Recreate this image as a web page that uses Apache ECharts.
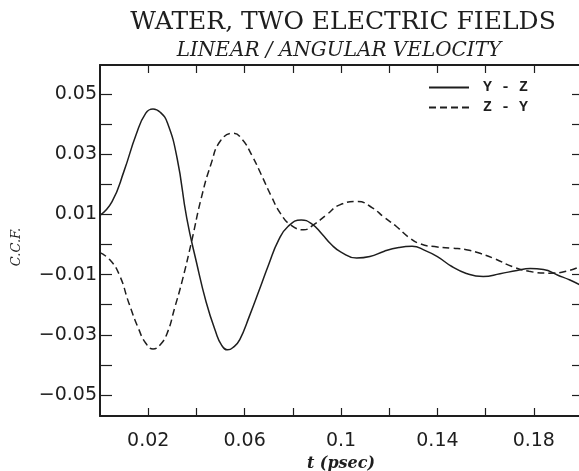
<!DOCTYPE html>
<html>
<head>
<meta charset="utf-8">
<script src="https://cdn.jsdelivr.net/npm/echarts@6/dist/echarts.min.js"></script>
<style>html,body{margin:0;padding:0;background:#fff}#c{width:579px;height:471px}</style>
</head>
<body>
<div id="c"></div>
<script>
// ---- data ----
var yzT = [0,0.005,0.01,0.015,0.019,0.022,0.025,0.028,0.032,0.036,0.04,0.044,0.048,0.0505,0.053,0.0555,0.058,0.062,0.066,0.07,0.074,0.078,0.0835,0.088,0.092,0.096,0.1,0.1065,0.112,0.118,0.124,0.1295,0.135,0.14,0.146,0.152,0.159,0.166,0.173,0.1785,0.184,0.19,0.195,0.2];
var yzValues = [0.0097,0.0143,0.0245,0.0366,0.0437,0.0451,0.044,0.0404,0.0287,0.0088,-0.0058,-0.019,-0.029,-0.0335,-0.035,-0.034,-0.0316,-0.0238,-0.0153,-0.0066,0.0013,0.006,0.0082,0.0068,0.0036,0.0,-0.0025,-0.0045,-0.004,-0.0022,-0.001,-0.0006,-0.002,-0.004,-0.0073,-0.0096,-0.0106,-0.0097,-0.0086,-0.008,-0.0083,-0.0102,-0.0118,-0.0138];
var zyT = [0,0.004,0.008,0.012,0.016,0.019,0.022,0.025,0.028,0.031,0.034,0.038,0.042,0.046,0.05,0.0553,0.059,0.063,0.067,0.071,0.075,0.079,0.0845,0.089,0.094,0.0995,0.107,0.113,0.118,0.123,0.128,0.133,0.14,0.146,0.152,0.158,0.164,0.171,0.178,0.1865,0.1934,0.2];
var zyValues = [-0.0027,-0.005,-0.01,-0.0195,-0.028,-0.0328,-0.0347,-0.0333,-0.0292,-0.021,-0.0124,0.001,0.0154,0.0266,0.0345,0.037,0.035,0.0297,0.0231,0.0162,0.0102,0.0066,0.0049,0.0068,0.0099,0.0132,0.0143,0.0122,0.009,0.006,0.0025,0.0002,-0.0008,-0.0012,-0.0017,-0.003,-0.0048,-0.0073,-0.0089,-0.0095,-0.0089,-0.007];
var seriesNames = ['Y - Z', 'Z - Y'];
var xTickValues = [0.02,0.04,0.06,0.08,0.1,0.12,0.14,0.16,0.18];
var xLabelValues = [0.02,0.06,0.1,0.14,0.18];
var yTickValues = [-0.05,-0.04,-0.03,-0.02,-0.01,0,0.01,0.02,0.03,0.04,0.05];
var yLabelValues = [-0.05,-0.03,-0.01,0.01,0.03,0.05];
var titleText = 'WATER, TWO ELECTRIC FIELDS';
var subtitleText = 'LINEAR / ANGULAR VELOCITY';
var xName = 't (psec)';
var yName = 'C.C.F.';

// ---- chart ----
var ink = '#1e1e1e';
var xMin = 0, xMax = 0.2, yMin = -0.057, yMax = 0.0597;
function pairs(ts, vals){ return ts.map(function(t,i){ return [t, vals[i]]; }); }
function fmtX(v){ return String(parseFloat(v.toFixed(3))); }
function fmtY(v){ var s = Math.abs(v).toFixed(2); return v < 0 ? '\u2212' + s : s; }

var chart = echarts.init(document.getElementById('c'), null, {renderer:'canvas'});
var baseAxis = {
  axisLine:{show:true, onZero:false, lineStyle:{color:ink, width:2}},
  splitLine:{show:false}
};
chart.setOption({
  animation:false,
  backgroundColor:'#fff',
  grid:{left:100, top:65, right:-3, bottom:55, containLabel:false, outerBoundsMode:'none'},
  graphic:[
    {type:'text', x:343, y:22, style:{text:titleText, font:'25px "DejaVu Serif"', fill:ink, align:'center', verticalAlign:'middle'}},
    {type:'text', x:339, y:51, style:{text:subtitleText, font:'italic 20px "DejaVu Serif"', fill:ink, align:'center', verticalAlign:'middle'}},
    {type:'text', x:17, y:247, rotation:Math.PI/2, style:{text:yName, font:'italic 13px "DejaVu Serif"', fill:ink, align:'center', verticalAlign:'middle'}}
  ],
  legend:{
    orient:'vertical', left:423, top:75, itemWidth:40, itemHeight:10, itemGap:5,
    formatter:function(n){ return ' ' + n; },
    itemStyle:{opacity:0},
    textStyle:{fontFamily:'Liberation Mono', fontWeight:'bold', fontSize:15, color:ink},
    data:seriesNames
  },
  xAxis:[
    Object.assign({}, baseAxis, {
      type:'value', position:'bottom', min:xMin, max:xMax,
      name:xName, nameLocation:'middle', nameGap:38,
      nameTextStyle:{fontFamily:'DejaVu Serif', fontStyle:'italic', fontWeight:'bold', fontSize:16, color:ink},
      axisTick:{show:true, inside:true, length:8, customValues:xTickValues, lineStyle:{color:ink, width:1.2}},
      axisLabel:{show:true, customValues:xLabelValues, formatter:fmtX, margin:16, fontFamily:'DejaVu Sans', fontSize:19, color:ink}
    }),
    Object.assign({}, baseAxis, {
      type:'value', position:'top', min:xMin, max:xMax,
      axisTick:{show:true, inside:true, length:8, customValues:xTickValues, lineStyle:{color:ink, width:1.2}},
      axisLabel:{show:false}
    })
  ],
  yAxis:[
    Object.assign({}, baseAxis, {
      type:'value', position:'left', min:yMin, max:yMax,
      axisTick:{show:true, inside:true, length:12, customValues:yTickValues, lineStyle:{color:ink, width:1.2}},
      axisLabel:{show:true, customValues:yLabelValues, formatter:fmtY, margin:3, fontFamily:'DejaVu Sans', fontSize:19, color:ink}
    }),
    Object.assign({}, baseAxis, {
      type:'value', position:'right', min:yMin, max:yMax,
      axisTick:{show:true, inside:true, length:10, customValues:yTickValues, lineStyle:{color:ink, width:1.2}},
      axisLabel:{show:false}
    })
  ],
  series:[
    {name:seriesNames[0], type:'line', symbol:'none', smooth:0.5, data:pairs(yzT, yzValues),
     lineStyle:{color:ink, width:1.5, type:'solid'}, itemStyle:{color:ink}},
    {name:seriesNames[1], type:'line', symbol:'none', smooth:0.5, data:pairs(zyT, zyValues),
     lineStyle:{color:ink, width:1.5, type:[7,4]}, itemStyle:{color:ink}}
  ]
});
</script>
</body>
</html>
